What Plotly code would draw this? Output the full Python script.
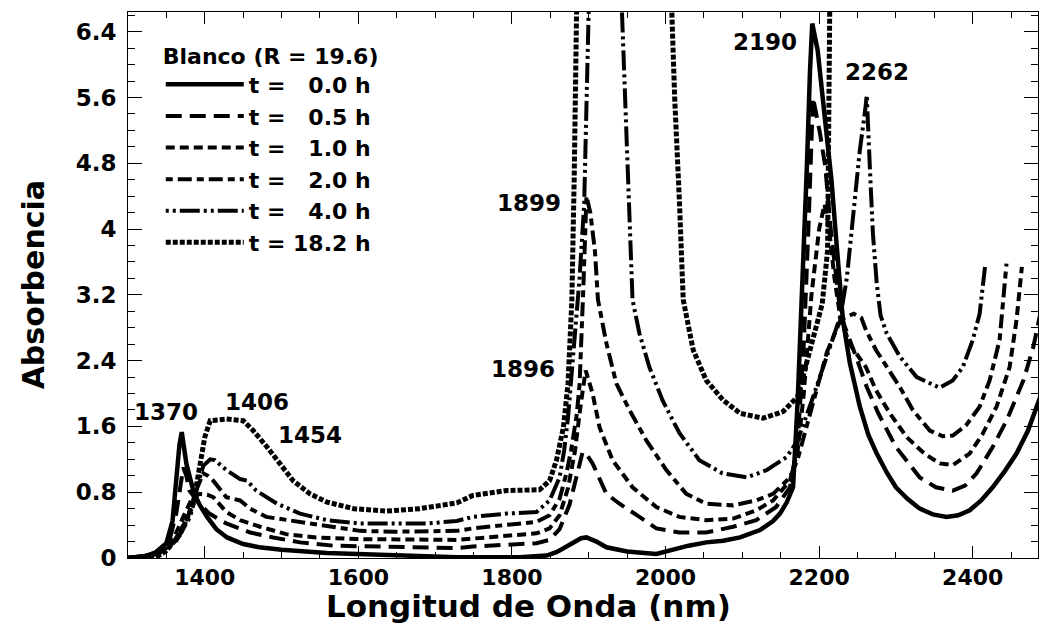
import plotly.graph_objects as go

# Wavelength (nm) / absorbance pairs for each soaking time
wl_00 = [1300, 1320, 1335, 1350, 1358, 1363, 1367, 1370, 1373, 1376, 1385, 1393, 1403, 1415, 1429, 1450, 1471, 1500, 1559, 1650, 1728, 1810, 1845, 1858, 1870, 1879, 1890, 1897, 1910, 1923, 1950, 1988, 2009, 2030, 2053, 2075, 2097, 2123, 2140, 2149, 2158, 2166, 2172, 2178, 2184, 2188, 2191, 2198, 2205, 2211, 2216, 2222, 2226, 2231, 2240, 2253, 2264, 2275, 2288, 2300, 2315, 2331, 2348, 2366, 2381, 2396, 2411, 2426, 2442, 2457, 2472, 2488]
ab_00 = [0.0, 0.02, 0.06, 0.18, 0.45, 1.0, 1.38, 1.53, 1.35, 1.15, 0.82, 0.65, 0.5, 0.35, 0.25, 0.17, 0.13, 0.1, 0.06, 0.03, 0.01, 0.01, 0.03, 0.07, 0.13, 0.19, 0.24, 0.25, 0.2, 0.13, 0.08, 0.05, 0.1, 0.15, 0.19, 0.21, 0.25, 0.34, 0.45, 0.54, 0.68, 0.86, 1.9, 3.2, 4.75, 5.9, 6.5, 6.18, 5.6, 5.1, 4.6, 3.9, 3.4, 2.89, 2.37, 1.84, 1.5, 1.27, 1.04, 0.86, 0.72, 0.6, 0.53, 0.5, 0.52, 0.58, 0.7, 0.86, 1.06, 1.27, 1.55, 1.96]

wl_05 = [1300, 1320, 1340, 1355, 1363, 1368, 1372, 1376, 1380, 1393, 1406, 1428, 1459, 1489, 1524, 1567, 1654, 1728, 1749, 1793, 1832, 1849, 1862, 1875, 1885, 1892, 1898, 1905, 1923, 1940, 1966, 1988, 2018, 2053, 2088, 2118, 2144, 2162, 2172, 2180, 2186, 2192, 2201, 2208, 2215, 2222, 2228, 2248, 2262, 2277, 2300, 2331, 2352, 2374, 2390, 2405, 2426, 2444, 2466, 2479, 2488]
ab_05 = [0.0, 0.02, 0.08, 0.25, 0.55, 0.85, 1.1, 1.0, 0.82, 0.66, 0.54, 0.42, 0.31, 0.25, 0.19, 0.15, 0.13, 0.12, 0.14, 0.16, 0.18, 0.22, 0.35, 0.65, 1.0, 1.29, 1.25, 1.15, 0.78, 0.66, 0.5, 0.36, 0.31, 0.31, 0.38, 0.46, 0.62, 0.86, 1.4, 2.6, 4.0, 5.6, 5.17, 4.76, 4.0, 3.4, 2.95, 2.45, 2.08, 1.76, 1.35, 0.98, 0.86, 0.82, 0.88, 1.03, 1.35, 1.67, 2.16, 2.57, 2.97]

wl_10 = [1300, 1320, 1340, 1360, 1372, 1383, 1393, 1403, 1411, 1428, 1446, 1472, 1506, 1545, 1600, 1680, 1728, 1793, 1832, 1849, 1862, 1873, 1882, 1890, 1896, 1905, 1914, 1931, 1957, 1988, 2018, 2053, 2088, 2118, 2140, 2162, 2172, 2180, 2190, 2200, 2207, 2213, 2220, 2228, 2240, 2261, 2274, 2292, 2314, 2337, 2357, 2374, 2396, 2413, 2431, 2448, 2457, 2464]
ab_10 = [0.0, 0.02, 0.07, 0.25, 0.5, 0.72, 0.78, 0.77, 0.74, 0.56, 0.46, 0.38, 0.29, 0.25, 0.23, 0.22, 0.22, 0.27, 0.3, 0.36, 0.52, 0.85, 1.3, 1.9, 2.28, 2.0, 1.59, 1.19, 0.86, 0.62, 0.5, 0.46, 0.48, 0.58, 0.7, 0.94, 1.3, 2.0, 3.2, 4.0, 4.3, 4.0, 3.4, 2.9, 2.6, 2.32, 2.04, 1.76, 1.47, 1.27, 1.15, 1.13, 1.27, 1.51, 1.84, 2.32, 2.89, 3.54]

wl_20 = [1300, 1320, 1340, 1360, 1378, 1390, 1398, 1404, 1411, 1428, 1446, 1459, 1480, 1524, 1559, 1602, 1646, 1689, 1728, 1749, 1793, 1832, 1849, 1862, 1871, 1877, 1884, 1888, 1893, 1897, 1902, 1908, 1912, 1923, 1936, 1953, 1975, 2001, 2027, 2053, 2088, 2118, 2140, 2162, 2172, 2190, 2210, 2228, 2245, 2255, 2261, 2274, 2288, 2305, 2322, 2344, 2361, 2374, 2391, 2409, 2422, 2435, 2444]
ab_20 = [0.0, 0.015, 0.06, 0.2, 0.5, 0.85, 1.03, 1.0, 0.94, 0.74, 0.7, 0.6, 0.5, 0.44, 0.4, 0.33, 0.32, 0.33, 0.33, 0.36, 0.4, 0.44, 0.52, 0.72, 1.03, 1.31, 1.72, 2.1, 3.3, 4.4, 4.2, 3.74, 3.14, 2.61, 2.12, 1.8, 1.43, 1.07, 0.78, 0.66, 0.64, 0.7, 0.78, 0.98, 1.2, 1.8, 2.5, 2.9, 2.97, 2.92, 2.77, 2.53, 2.32, 2.08, 1.8, 1.55, 1.48, 1.49, 1.61, 1.84, 2.16, 2.65, 3.58]

wl_40 = [1300, 1320, 1340, 1363, 1381, 1390, 1398, 1407, 1413, 1428, 1446, 1455, 1467, 1494, 1524, 1559, 1602, 1646, 1689, 1728, 1749, 1793, 1832, 1849, 1862, 1868, 1873, 1880, 1888, 1894, 1898, 1902, 1925, 1940, 1943, 1950, 1957, 1966, 1979, 1996, 2018, 2044, 2074, 2106, 2132, 2158, 2172, 2190, 2210, 2228, 2236, 2244, 2253, 2260, 2262, 2266, 2270, 2275, 2280, 2288, 2305, 2327, 2344, 2357, 2374, 2387, 2400, 2409, 2416]
ab_40 = [0.0, 0.015, 0.05, 0.21, 0.5, 0.86, 1.12, 1.2, 1.19, 1.07, 0.96, 0.94, 0.82, 0.66, 0.54, 0.46, 0.42, 0.42, 0.42, 0.45, 0.5, 0.54, 0.56, 0.7, 0.98, 1.31, 1.71, 2.5, 3.4, 4.3, 6.0, 7.5, 8.5, 7.5, 6.7, 4.8, 3.14, 2.73, 2.32, 1.92, 1.52, 1.19, 1.03, 0.98, 1.07, 1.23, 1.43, 1.9, 2.45, 2.95, 3.4, 4.19, 4.96, 5.45, 5.63, 4.76, 3.95, 3.34, 2.95, 2.73, 2.45, 2.2, 2.12, 2.07, 2.16, 2.32, 2.65, 2.97, 3.54]

wl_182 = [1300, 1320, 1340, 1350, 1368, 1385, 1394, 1400, 1407, 1428, 1450, 1463, 1481, 1498, 1515, 1537, 1559, 1594, 1637, 1680, 1728, 1749, 1793, 1836, 1849, 1858, 1867, 1873, 1878, 1881, 1885, 1920, 1990, 2004, 2008, 2012, 2018, 2023, 2036, 2053, 2075, 2097, 2127, 2153, 2172, 2181, 2192, 2204, 2211, 2214, 2216]
ab_182 = [0.0, 0.01, 0.03, 0.09, 0.29, 0.66, 1.15, 1.47, 1.67, 1.69, 1.67, 1.55, 1.35, 1.15, 0.94, 0.78, 0.68, 0.6, 0.57, 0.6, 0.67, 0.76, 0.82, 0.83, 0.94, 1.19, 1.59, 2.12, 3.14, 4.6, 7.2, 9.0, 9.0, 7.8, 6.64, 5.57, 4.35, 3.14, 2.53, 2.16, 1.92, 1.76, 1.7, 1.78, 1.96, 2.27, 2.66, 3.09, 3.74, 5.5, 9.0]

series_names = ["t = \u00a0\u00a00.0 h", "t = \u00a0\u00a00.5 h", "t = \u00a0\u00a01.0 h",
                "t = \u00a0\u00a02.0 h", "t = \u00a0\u00a04.0 h", "t = 18.2 h"]
series_x = [wl_00, wl_05, wl_10, wl_20, wl_40, wl_182]
series_y = [ab_00, ab_05, ab_10, ab_20, ab_40, ab_182]

y_tick_vals = [0, 0.8, 1.6, 2.4, 3.2, 4.0, 4.8, 5.6, 6.4]
y_tick_text = ["0", "0.8", "1.6", "2.4", "3.2", "4", "4.8", "5.6", "6.4"]
x_tick_vals = [1400, 1600, 1800, 2000, 2200, 2400]

peak_labels = ["1370", "1406", "1454", "1899", "1896", "2190", "2262"]

# line style per series: (dash pattern, width)
styles = [
    ("solid", 4.5),
    ("16px,8px", 4),
    ("9px,5px", 4),
    ("7px,5px,14px,5px", 4),
    ("3px,4px,3px,4px,20px,4px", 4),
    ("5px,2px", 5),
]

FONT = "DejaVu Sans"

fig = go.Figure()
for name, xs, ys, (dash, w) in zip(series_names, series_x, series_y, styles):
    fig.add_trace(go.Scatter(
        x=xs, y=ys, mode="lines", name=name,
        line=dict(color="black", width=w, dash=dash),
    ))

# label placement (wavelength nm, absorbance) for the band annotations
label_pos = [(1350, 1.77), (1468, 1.90), (1537, 1.49), (1822, 4.32),
             (1814, 2.30), (2130, 6.28), (2275, 5.91)]
for txt, (lx, ly) in zip(peak_labels, label_pos):
    fig.add_annotation(x=lx, y=ly, xref="x", yref="y", text=txt, showarrow=False,
                       font=dict(family=FONT, size=23, color="black", weight="bold"),
                       xanchor="center", yanchor="middle")

fig.add_annotation(x=0.44, y=-0.088, xref="paper", yref="paper",
                   text="Longitud de Onda (nm)", showarrow=False,
                   font=dict(family=FONT, size=31, color="black", weight="bold"),
                   xanchor="center", yanchor="middle")
fig.add_annotation(x=-0.104, y=0.5, xref="paper", yref="paper",
                   text="Absorbencia", showarrow=False, textangle=-90,
                   font=dict(family=FONT, size=30, color="black", weight="bold"),
                   xanchor="center", yanchor="middle")

fig.update_layout(
    width=1041, height=628,
    margin=dict(l=128, r=3, t=12, b=70),
    paper_bgcolor="white", plot_bgcolor="white",
    showlegend=True,
    legend=dict(
        x=0.036, y=0.958, xanchor="left", yanchor="top",
        bgcolor="rgba(0,0,0,0)", borderwidth=0,
        title=dict(text="Blanco (R = 19.6)", side="top",
                   font=dict(family=FONT, size=22, color="black", weight="bold")),
        font=dict(family=FONT, size=22, color="black", weight="bold"),
        tracegroupgap=0, itemwidth=78,
    ),
    xaxis=dict(
        range=[1300, 2485], tickvals=x_tick_vals,
        ticks="inside", ticklen=12, tickwidth=1, tickcolor="black",
        minor=dict(dtick=50, tick0=1300, ticks="inside", ticklen=6, tickcolor="black"),
        showline=True, linecolor="black", linewidth=1, mirror="ticks",
        showgrid=False, zeroline=False,
        tickfont=dict(family=FONT, size=22, color="black", weight="bold"),
    ),
    yaxis=dict(
        range=[0, 6.64], tickvals=y_tick_vals, ticktext=y_tick_text,
        ticks="inside", ticklen=14, tickwidth=1, tickcolor="black",
        minor=dict(dtick=0.2, tick0=0, ticks="inside", ticklen=7, tickcolor="black"),
        showline=True, linecolor="black", linewidth=1, mirror="ticks",
        showgrid=False, zeroline=False, ticklabelstandoff=6,
        tickfont=dict(family=FONT, size=23, color="black", weight="bold"),
    ),
)

fig.write_html("out.html")
